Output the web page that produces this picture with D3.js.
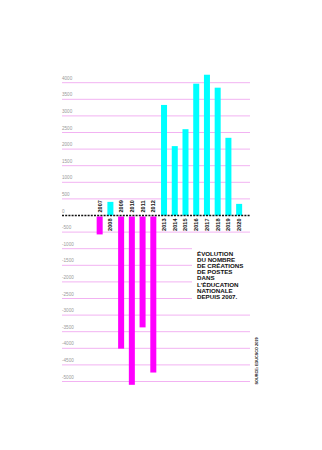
<!DOCTYPE html>
<html><head><meta charset="utf-8">
<script src="https://cdn.jsdelivr.net/npm/d3@7/dist/d3.min.js"></script>
<style>
html,body{margin:0;padding:0;background:#fff;}
svg{display:block;}
</style></head>
<body>
<script>
const years = ["2007","2008","2009","2010","2011","2012","2013","2014","2015","2016","2017","2018","2019","2020"];
const values = [-570, 410, -4010, -5100, -3370, -4730, 3330, 2090, 2600, 3970, 4240, 3850, 2340, 350];
const yTicks = [4000,3500,3000,2500,2000,1500,1000,500,0,-500,-1000,-1500,-2000,-2500,-3000,-3500,-4000,-4500,-5000];
const titleLines = ["ÉVOLUTION","DU NOMBRE","DE CRÉATIONS","DE POSTES","DANS","L'ÉDUCATION","NATIONALE","DEPUIS 2007."];
const sourceText = "SOURCE: EDUCSCO 2019";

const W = 322, H = 450;
const svg = d3.select("body").append("svg").attr("width", W).attr("height", H);

const y = d3.scaleLinear().domain([-5000, 4000]).range([381.5, 82.7]);
const x = d3.scaleBand().domain(years).range([94.3, 244.5]).paddingInner(0.44).paddingOuter(0.22);
const gx0 = 62, gx1 = 250;

// gridlines
svg.append("g").selectAll("line").data(yTicks.filter(d => d !== 0)).join("line")
  .attr("x1", gx0).attr("x2", gx1)
  .attr("y1", d => y(d)).attr("y2", d => y(d))
  .attr("stroke", "#f2b2f2").attr("stroke-width", 1);

// tick labels
svg.append("g").selectAll("text").data(yTicks).join("text")
  .attr("x", gx0).attr("y", d => y(d) - 3)
  .attr("font-family", "Liberation Sans, Arial, sans-serif")
  .attr("font-size", 4.6).attr("fill", "#999")
  .text(d => d);

// bars
svg.append("g").selectAll("rect").data(years).join("rect")
  .attr("x", d => x(d))
  .attr("width", x.bandwidth())
  .attr("y", (d, i) => values[i] >= 0 ? y(values[i]) : y(0) + 1)
  .attr("height", (d, i) => Math.abs(y(values[i]) - y(0)) - (values[i] < 0 ? 1 : 0))
  .attr("fill", (d, i) => values[i] >= 0 ? "#00ffff" : "#ff00ff");

// zero line
svg.append("line").attr("x1", gx0).attr("x2", gx1)
  .attr("y1", y(0)).attr("y2", y(0))
  .attr("stroke", "#111").attr("stroke-width", 1.4).attr("stroke-dasharray", "2,1.2");

// year labels
svg.append("g").selectAll("text").data(years).join("text")
  .attr("transform", (d, i) => {
    const cx = x(d) + x.bandwidth() / 2 + 2;
    const yy = values[i] < 0 ? y(0) - 3 : y(0) + 3;
    return `translate(${cx},${yy}) rotate(-90)`;
  })
  .attr("text-anchor", (d, i) => values[i] < 0 ? "start" : "end")
  .attr("font-family", "Liberation Sans, Arial, sans-serif")
  .attr("font-weight", "bold").attr("font-size", 5.6).attr("fill", "#111")
  .text(d => d);

// white box behind title
svg.append("rect").attr("x", 192).attr("y", 240).attr("width", 62).attr("height", 63).attr("fill", "#fff");

// title
svg.append("g").selectAll("text").data(titleLines).join("text")
  .attr("x", 197).attr("y", (d, i) => 255.5 + i * 6.2)
  .attr("font-family", "Liberation Sans, Arial, sans-serif")
  .attr("font-weight", "bold").attr("font-size", 6.2).attr("fill", "#111")
  .text(d => d);

// source
svg.append("text")
  .attr("transform", "translate(258,361) rotate(-90)")
  .attr("text-anchor", "middle")
  .attr("font-family", "Liberation Sans, Arial, sans-serif")
  .attr("font-weight", "bold").attr("font-size", 3.8).attr("fill", "#111")
  .text(sourceText);
</script>
</body></html>
